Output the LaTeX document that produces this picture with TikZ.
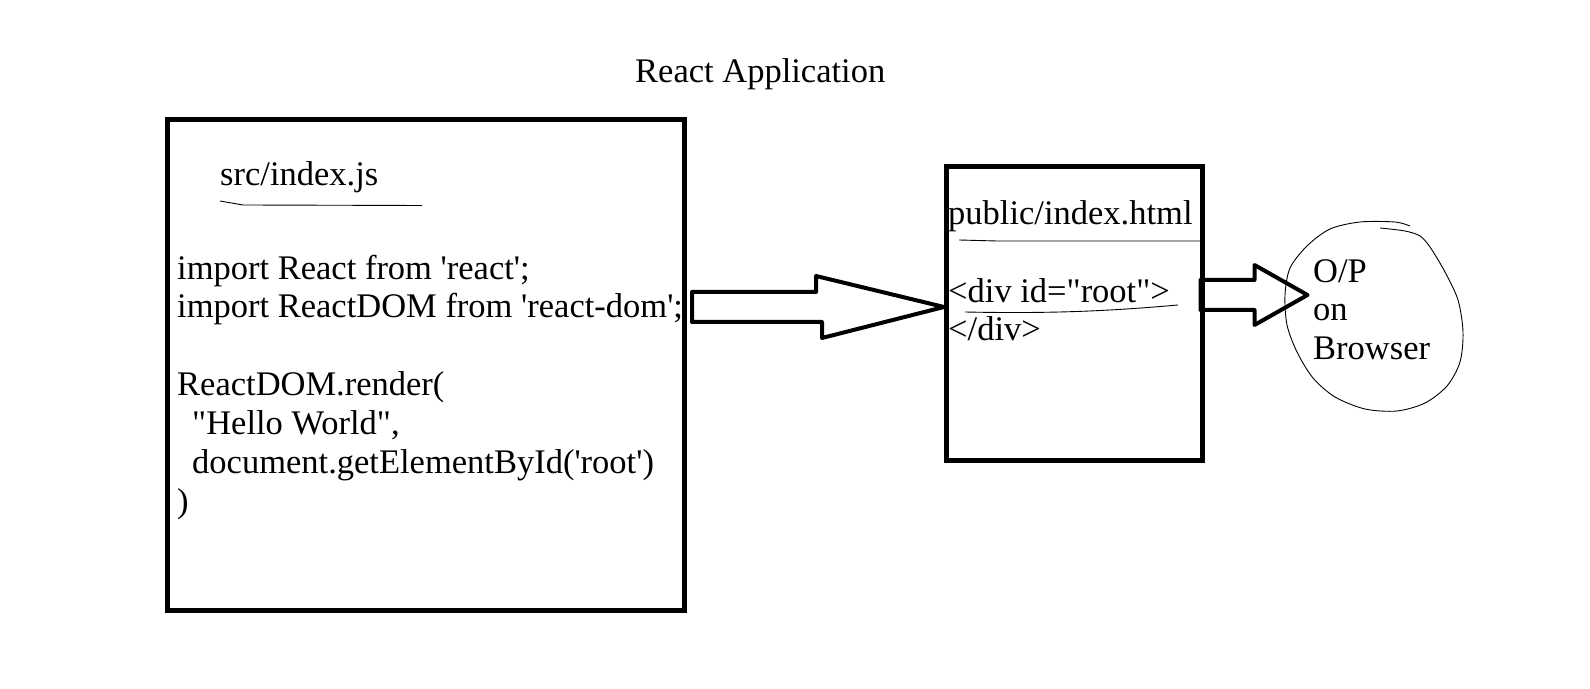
\documentclass[tikz,border=0pt]{standalone}
\usepackage{fontspec}
\newfontfamily\srcfont{Liberation Serif}[Ligatures=TeXOff]
\usepackage{tikz}
\usetikzlibrary{calc}

\tikzset{
    filebox/.style={draw,line width=5pt,inner sep=0pt},
    fatarrow/.style={draw,line width=4pt,line join=round},
    pen/.style={line width=0.9pt},
    txt/.style={anchor=base west,inner sep=0pt,font=\srcfont\fontsize{34.5}{38.8}\selectfont}
}

\begin{document}
\begin{tikzpicture}[x=1pt,y=1pt]
        \useasboundingbox (0,0) rectangle (1590,688);
        \node[txt] (title) at (635,605) {React Application};
        % the two files
        \node[filebox,minimum width=516.5pt,minimum height=491pt] (srcbox) at (425.75,323) {};
        \node[filebox,minimum width=256pt,minimum height=294pt] (htmlbox) at (1074.5,374.5) {};
        \node[txt] (srcname) at (220,502) {src/index.js};
        \draw[pen] (220,487) -- (243,483) -- (422,482.5);
        \node[txt] (code1) at (177,408) {import React from 'react';};
        \node[txt] (code2) at (177,370) {import ReactDOM from 'react-dom';};
        \node[txt] (code3) at (177,292) {ReactDOM.render(};
        \node[txt] (code4) at (192,253) {"Hello World",};
        \node[txt] (code5) at (192,214) {document.getElementById('root')};
        \node[txt] (code6) at (177,175) {)};
        \node[txt] (htmlname) at (948,463) {public/index.html};
        \draw[pen] (959,448) -- (997,447) -- (1200,447);
        \node[txt] (rootdiv) at (948,385) {<div id="root">};
        \node[txt] (enddiv) at (948,347) {</div>};
        \draw[pen] (965,376) .. controls (1063,374) and (1120,378) .. (1178,383);
        % output
        \node[txt] (op) at (1313,405) {O/P};
        \node[txt] (on) at (1313,367) {on};
        \node[txt] (browser) at (1313,328) {Browser};
        \draw[pen] plot[smooth] coordinates {(1410,462) (1395,466) (1360,466) (1330,459) (1307,442) (1290,420) (1285,393) (1287,363) (1297,336) (1313,310) (1335,291) (1365,279) (1397,277) (1425,285) (1447,302) (1460,326) (1463,356) (1458,388) (1445,416) (1430,441) (1420,452) (1405,457) (1380,460)};
        % arrows
        \coordinate (tipA) at ([yshift=6.5pt]htmlbox.west);
        \draw[fatarrow] (tipA) -- ++(-128,31) -- ++(0,-16) -- ($(srcbox.east |- tipA)+(5.5,15)$) -- ++(0,-30) -- ++(130,0) -- ++(0,-16) -- cycle;
        \coordinate (tipB) at ([xshift=102.5pt,yshift=18.5pt]htmlbox.east);
        \draw[fatarrow] (tipB) -- ++(-53,30) -- ++(0,-15) -- ($(htmlbox.east |- tipB)+(-4.5,15)$) -- ++(0,-30) -- ++(54,0) -- ++(0,-15) -- cycle;
\end{tikzpicture}
\end{document}
